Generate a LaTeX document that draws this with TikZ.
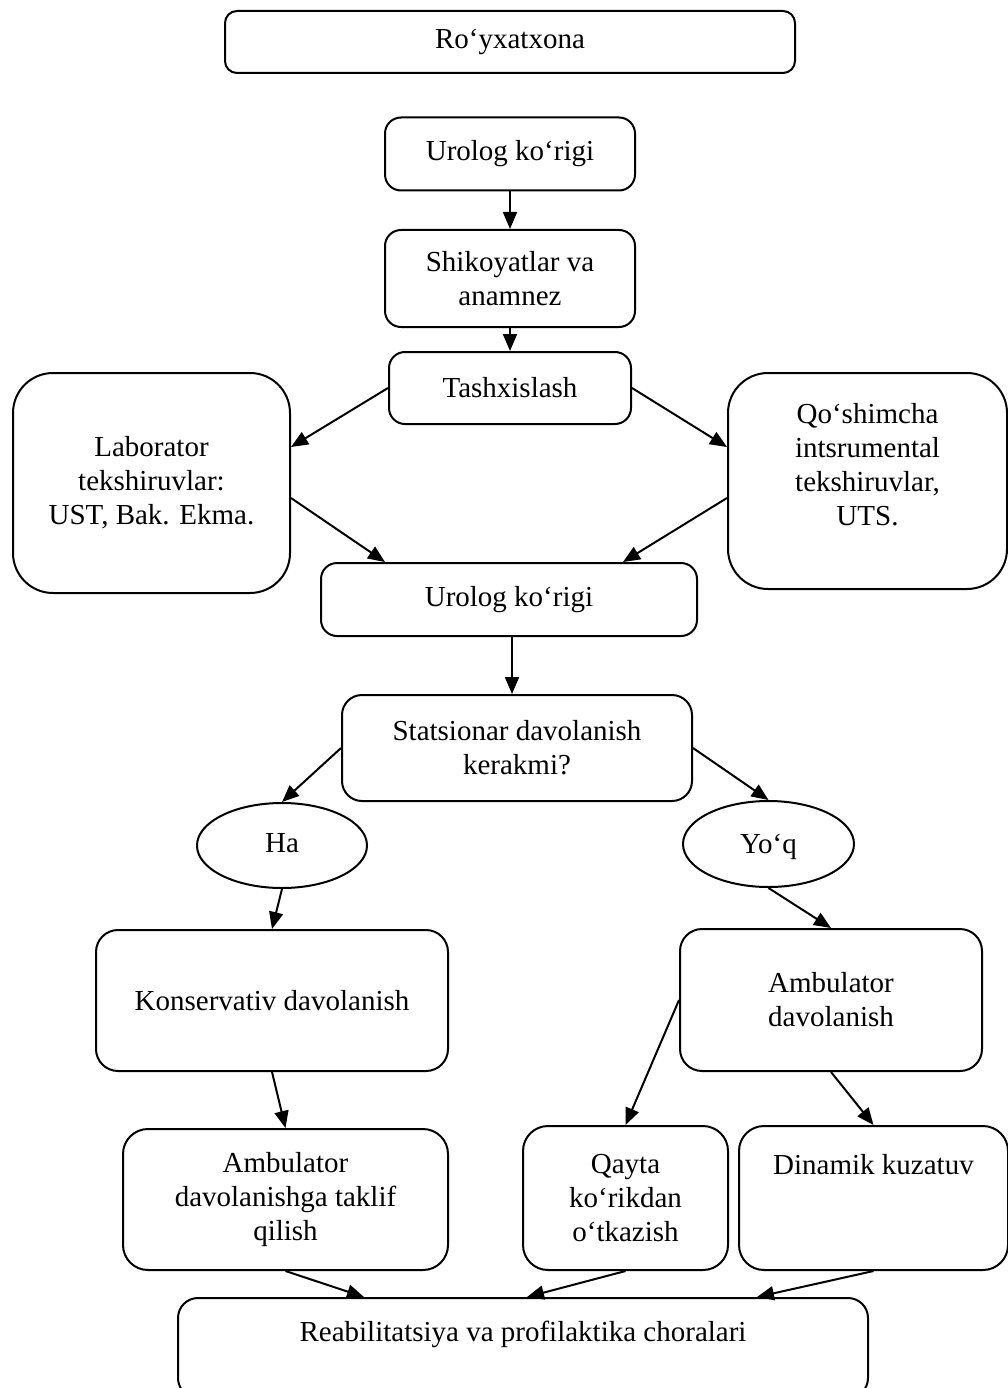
\documentclass[tikz,border=0pt]{standalone}
\usepackage{fontspec}
\setmainfont{Liberation Serif}
\usetikzlibrary{arrows.meta,shapes.geometric}
\tikzset{
  box/.style={draw, line width=2pt, rounded corners=#1, align=center, inner sep=0pt},
  box/.default=16pt,
  oval/.style={draw, ellipse, line width=2pt, inner sep=0pt, text height=20pt, text depth=7pt},
  conn/.style={line width=2pt, -{Triangle[length=17pt,width=14pt]}},
}
\begin{document}
\begin{tikzpicture}[x=1pt,y=-1pt,font=\fontsize{29pt}{34pt}\selectfont]
\clip (0,0) rectangle (1008,1388);
\node[box=12pt, minimum width=570pt, minimum height=62pt] (reg) at (510,42) {Ro‘yxatxona};
\node[box, minimum width=250pt, minimum height=73pt] (u1) at (510,154) {Urolog ko‘rigi};
\node[box, minimum width=250pt, minimum height=97pt] (shik) at (510,278.5) {Shikoyatlar va\\anamnez};
\node[box, minimum width=242pt, minimum height=72pt] (tash) at (510,388) {Tashxislash};
\node[box=40pt, minimum width=277pt, minimum height=220pt] (lab) at (151.5,483) {Laborator\\tekshiruvlar:\\UST, Bak. Ekma.};
\node[box=40pt, minimum width=279pt, minimum height=216pt] (qos) at (867.5,481) {Qo‘shimcha\\intsrumental\\tekshiruvlar,\\UTS.\\\mbox{}};
\node[box, minimum width=376pt, minimum height=73pt] (u2) at (509,599.5) {Urolog ko‘rigi};
\node[box=20pt, minimum width=350pt, minimum height=106pt] (stat) at (517,748) {Statsionar davolanish\\kerakmi?};
\node[oval, minimum width=170pt, minimum height=85pt] (ha) at (282,845.5) {Ha};
\node[oval, minimum width=171pt, minimum height=86pt] (yoq) at (768.5,844) {\raisebox{-3pt}{Yo‘q}};
\node[box=22pt, minimum width=352pt, minimum height=141pt] (kons) at (272,1000.5) {Konservativ davolanish};
\node[box=22pt, minimum width=302pt, minimum height=142pt] (amb) at (831,1000) {Ambulator\\davolanish};
\node[box=25pt, minimum width=325pt, minimum height=141pt] (ambt) at (285.5,1199.5) {Ambulator\\davolanishga taklif\\qilish};
\node[box=25pt, minimum width=205pt, minimum height=144pt] (qayta) at (625.5,1198) {Qayta\\ko‘rikdan\\o‘tkazish};
\node[box=25pt, minimum width=269pt, minimum height=144pt] (din) at (873.5,1198) {Dinamik kuzatuv\\\mbox{}\\\mbox{}};
\node[box=20pt, minimum width=690pt, minimum height=100pt] (reab) at (523,1348) {Reabilitatsiya va profilaktika choralari\\\mbox{}};

\draw[conn] (u1.south) -- (shik.north);
\draw[conn] (shik.south) -- (tash.north);
\draw[conn] (tash.west) -- ([yshift=36pt]lab.east);
\draw[conn] (tash.east) -- ([yshift=34pt]qos.west);
\draw[conn] ([yshift=-15pt]lab.east) -- ([xshift=-124pt]u2.north);
\draw[conn] ([yshift=-17pt]qos.west) -- ([xshift=114pt]u2.north);
\draw[conn] ([xshift=3pt]u2.south) -- ([xshift=-5pt]stat.north);
\draw[conn] (stat.west) -- (ha.north);
\draw[conn] (stat.east) -- (yoq.north);
\draw[conn] (ha.south) -- (kons.north);
\draw[conn] (yoq.south) -- (amb.north);
\draw[conn] (kons.south) -- (ambt.north);
\draw[conn] (amb.west) -- (qayta.north);
\draw[conn] (amb.south) -- (din.north);
\draw[conn] (ambt.south) -- ([xshift=-159pt]reab.north);
\draw[conn] (qayta.south) -- ([xshift=4pt]reab.north);
\draw[conn] (din.south) -- ([xshift=234pt]reab.north);
\end{tikzpicture}
\end{document}
